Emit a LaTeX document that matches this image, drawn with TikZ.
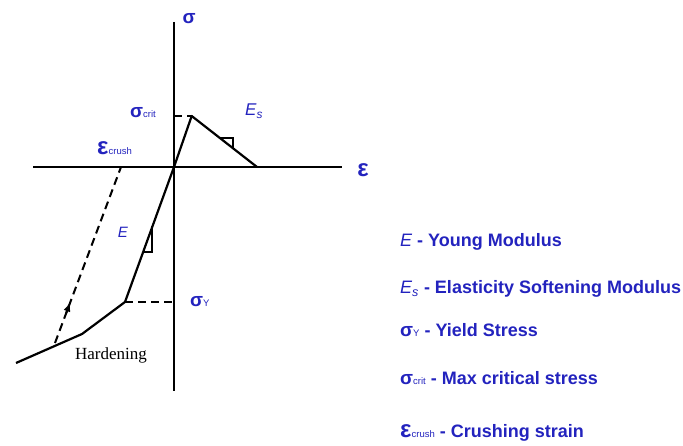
\documentclass[tikz,border=0pt]{standalone}
\usepackage{fontspec}
\setmainfont{Liberation Sans}
\newfontfamily\seriffont{Liberation Serif}
\usetikzlibrary{arrows.meta}
\definecolor{lbl}{RGB}{35,35,190}

\newcommand{\sub}[1]{{\mdseries\fontsize{9.5}{9.5}\selectfont #1}}

\begin{document}
\begin{tikzpicture}[x=1pt,y=-1pt,
  axis/.style={line width=2.2pt},
  curve/.style={line width=2.2pt,line join=round},
  guide/.style={line width=2pt,dash pattern=on 8pt off 5pt},
  slope/.style={line width=1.3pt},
  tag/.style={text=lbl,inner sep=0pt,font=\bfseries\fontsize{19}{19}\selectfont},
  legend/.style={text=lbl,inner sep=0pt,anchor=west,font=\bfseries\fontsize{18}{18}\selectfont}]
  \useasboundingbox (0,0) rectangle (683,446);

  % points of the curve
  \coordinate (O) at (174,167);
  \coordinate (peak) at (191.7,116);
  \coordinate (soft) at (257,167);
  \coordinate (yld) at (125,302);
  \coordinate (hrd) at (82,334);
  \coordinate (tail) at (16,363);
  \coordinate (crush) at (121,167);
  \coordinate (unl) at (55,343);

  % axes
  \coordinate (ytop) at (174,22);
  \coordinate (ybot) at (174,391);
  \coordinate (xleft) at (33,167);
  \coordinate (xright) at (342,167);
  \draw[axis] (ytop) -- (ybot);
  \draw[axis] (xleft) -- (xright);
  \node[tag] (sig) at (189,19) {σ};
  \node[tag,font=\bfseries\fontsize{24}{24}\selectfont] (eps) at (363,170) {ε};

  % stress-strain curve
  \draw[curve] (tail) -- (hrd) -- (yld) -- (O) -- (peak) -- (soft);
  \draw[guide] (O |- peak) -- (peak);
  \draw[guide] (yld) -- (O |- yld);
  \draw[guide] (unl) -- (crush)
    coordinate[pos=0.17] (a1) coordinate[pos=0.235] (a2);
  \draw[line width=2pt,-{Latex[length=10pt,width=7pt]}] (a1) -- (a2);

  % slope marks
  \draw[slope] (220,138) -- (233,138) -- (233,148);
  \draw[slope] (152,226) -- (152,252) -- (143,252);

  % labels
  \node[tag,anchor=west] (scrit) at (130,113) {σ\sub{crit}};
  \node[tag,anchor=west] (ecrush) at (97,148) {{\fontsize{24}{24}\selectfont ε}\sub{crush}};
  \node[tag,anchor=west] (sy) at (190,302) {σ\sub{Y}};
  \node[tag,anchor=west,font=\itshape\fontsize{17}{17}\selectfont] (es) at (245,111) {E\textsubscript{s}};
  \node[tag,font=\itshape\fontsize{15}{15}\selectfont] (e) at (123,232) {E};
  \node[inner sep=0pt,font=\seriffont\fontsize{17}{17}\selectfont] (hard) at (111,355) {Hardening};

  % legend
  \node[legend] (lE) at (400,242) {{\mdseries\itshape E} - Young Modulus};
  \node[legend] (lEs) at (400,289) {{\mdseries\itshape E\textsubscript{s}} - Elasticity Softening Modulus};
  \node[legend] (lsy) at (400,330) {{\fontsize{19}{19}\selectfont σ}\sub{Y} - Yield Stress};
  \node[legend] (lsc) at (400,378) {{\fontsize{19}{19}\selectfont σ}\sub{crit} - Max critical stress};
  \node[legend] (lec) at (400,433) {{\fontsize{24}{24}\selectfont ε}\sub{crush} - Crushing strain};
\end{tikzpicture}
\end{document}
